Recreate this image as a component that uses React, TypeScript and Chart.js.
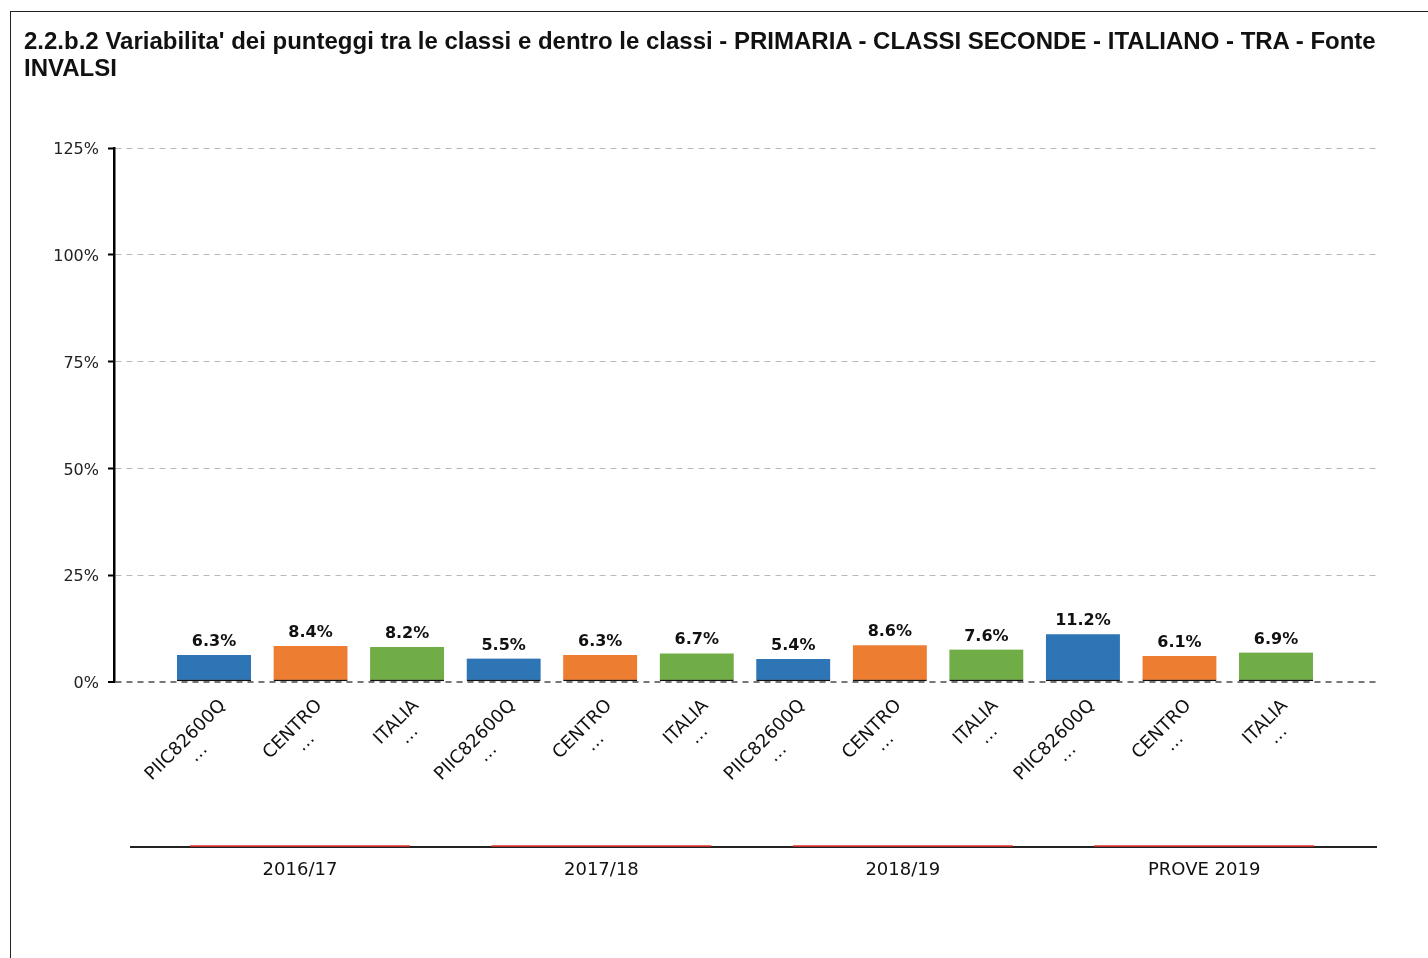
import React, { useEffect, useRef } from "react";
import { Chart, registerables } from "chart.js";

Chart.register(...registerables);

const TITLE =
  "2.2.b.2 Variabilita' dei punteggi tra le classi e dentro le classi - PRIMARIA - CLASSI SECONDE - ITALIANO - TRA - Fonte INVALSI";

const categories = [
  "PIIC82600Q", "CENTRO", "ITALIA",
  "PIIC82600Q", "CENTRO", "ITALIA",
  "PIIC82600Q", "CENTRO", "ITALIA",
  "PIIC82600Q", "CENTRO", "ITALIA",
];
const values = [6.3, 8.4, 8.2, 5.5, 6.3, 6.7, 5.4, 8.6, 7.6, 11.2, 6.1, 6.9];
const groups = ["2016/17", "2017/18", "2018/19", "PROVE 2019"];
const seriesColors = ["#2E75B6", "#ED7D31", "#70AD47"];
const yMin = 0;
const yMax = 125;
const yStep = 25;

// visible index ranges of the two horizontal axes
const X_RANGE = [-1.0358, 12.046];
const GROUP_RANGE = [-0.6171, 3.5733];

const FONT = "'DejaVu Sans', Verdana, sans-serif";

const customPlugin = {
  id: "customLabels",
  afterDatasetsDraw(chart: any) {
    const ctx = chart.ctx as CanvasRenderingContext2D;
    const meta = chart.getDatasetMeta(0);
    ctx.save();
    // y tick labels
    const ys = chart.scales.y;
    ctx.font = `16px ${FONT}`;
    ctx.fillStyle = "#222";
    ctx.textAlign = "right";
    ctx.textBaseline = "middle";
    ys.ticks.forEach((t: any) => {
      ctx.fillText(`${t.value}%`, ys.right - 15, ys.getPixelForValue(t.value) + 2);
    });
    // value labels
    ctx.font = `bold 16px ${FONT}`;
    ctx.fillStyle = "#111";
    ctx.textAlign = "center";
    ctx.textBaseline = "alphabetic";
    meta.data.forEach((bar: any, i: number) => {
      ctx.fillText(values[i].toFixed(1) + "%", bar.x, bar.y - 9);
    });
    // rotated category labels
    const xs = chart.scales.x;
    const axisY = xs.top;
    ctx.font = `18px ${FONT}`;
    categories.forEach((c, i) => {
      const px = xs.getPixelForValue(i);
      ctx.save();
      ctx.translate(px + 9, axisY + 21);
      ctx.rotate(-Math.PI / 4);
      ctx.textAlign = "right";
      ctx.textBaseline = "middle";
      ctx.fillText(c, 0, 0);
      const w = ctx.measureText(c).width;
      ctx.textAlign = "center";
      ctx.fillText("\u2026", -w / 2, 18);
      ctx.restore();
    });
    // group axis line with red brackets
    const x2 = chart.scales.x2;
    const gy = Math.round(x2.top);
    ctx.beginPath();
    ctx.strokeStyle = "#222";
    ctx.lineWidth = 2;
    ctx.moveTo(130, gy + 1);
    ctx.lineTo(chart.chartArea.right, gy + 1);
    ctx.stroke();
    ctx.strokeStyle = "#e8312c";
    ctx.lineWidth = 1.5;
    groups.forEach((_, i) => {
      const cx = x2.getPixelForValue(i);
      ctx.beginPath();
      ctx.moveTo(cx - 110, gy);
      ctx.lineTo(cx + 110, gy);
      ctx.stroke();
    });
    ctx.restore();
  },
};

function fixRange(range: number[], count: number) {
  return (s: any) => {
    s.min = range[0];
    s.max = range[1];
    s.ticks = Array.from({ length: count }, (_, i) => ({ value: i }));
  };
}

function BarChart() {
  const ref = useRef<HTMLCanvasElement | null>(null);
  useEffect(() => {
    if (!ref.current) return;
    const data = values.map((v, i) => ({ x: i, y: v }));
    const colors = values.map((_, i) => seriesColors[i % seriesColors.length]);
    const chart = new Chart(ref.current, {
      type: "bar",
      data: {
        datasets: [
          {
            label: "Variabilità",
            data,
            backgroundColor: colors,
            borderColor: "#111",
            borderWidth: { top: 0, left: 0, right: 0, bottom: 1.5 },
            borderSkipped: false,
            barThickness: 74,
          } as any,
        ],
      },
      options: {
        animation: false,
        responsive: false,
        devicePixelRatio: 1,
        layout: { padding: { left: 54, right: 51, top: 148, bottom: 62 } },
        plugins: { legend: { display: false }, tooltip: { enabled: false }, title: { display: false } },
        scales: {
          x: {
            type: "linear",
            position: "bottom",
            offset: false,
            weight: 0,
            min: X_RANGE[0],
            max: X_RANGE[1],
            afterBuildTicks: fixRange(X_RANGE, categories.length),
            grid: { display: false, offset: false },
            border: { display: false },
            ticks: { display: false },
            afterFit: (s: any) => {
              s.height = 164;
            },
          },
          x2: {
            type: "linear",
            position: "bottom",
            offset: false,
            weight: 1,
            min: GROUP_RANGE[0],
            max: GROUP_RANGE[1],
            afterBuildTicks: fixRange(GROUP_RANGE, groups.length),
            grid: { display: false, drawTicks: false, offset: false },
            border: { display: false },
            ticks: {
              autoSkip: false,
              maxRotation: 0,
              minRotation: 0,
              padding: 14,
              color: "#111",
              font: { family: FONT, size: 18 },
              callback: (v: any) => groups[Math.round(Number(v))] ?? "",
            },
            afterFit: (s: any) => {
              s.height = 50;
            },
          },
          y: {
            type: "linear",
            min: yMin,
            max: yMax,
            grid: {
              color: (c: any) => (c.tick && c.tick.value === 0 ? "#777" : "#b8b8b8"),
              lineWidth: (c: any) => (c.tick && c.tick.value === 0 ? 2 : 1),
              drawTicks: true,
              tickLength: 6,
              tickColor: "#000",
              tickWidth: 2,
              tickBorderDash: [],
            },
            border: { display: true, color: "#000", width: 2.5, dash: [6, 5] },
            ticks: {
              display: false,
              stepSize: yStep,
              callback: (v: any) => `${v}%`,
            },
            afterFit: (s: any) => {
              s.width = 60;
            },
          },
        },
      } as any,
      plugins: [customPlugin],
    });
    return () => chart.destroy();
  }, []);
  return (
    <canvas
      ref={ref}
      width={1428}
      height={958}
      style={{ position: "absolute", left: 0, top: 0, width: 1428, height: 958, display: "block" }}
    />
  );
}

export default function App() {
  return (
    <div style={{ position: "fixed", left: 0, top: 0, width: 1428, height: 958, overflow: "hidden", background: "#fff" }}>
      <div
        style={{
          position: "absolute",
          left: 10,
          top: 11,
          width: 1500,
          height: 1000,
          borderTop: "1.5px solid #222",
          borderLeft: "1.5px solid #222",
        }}
      />
      <BarChart />
      <div
        style={{
          position: "absolute",
          left: 24,
          top: 27,
          width: 1390,
          font: "bold 24px 'Liberation Sans', Arial, sans-serif",
          lineHeight: "27px",
          color: "#111",
        }}
      >
        {TITLE}
      </div>
    </div>
  );
}
